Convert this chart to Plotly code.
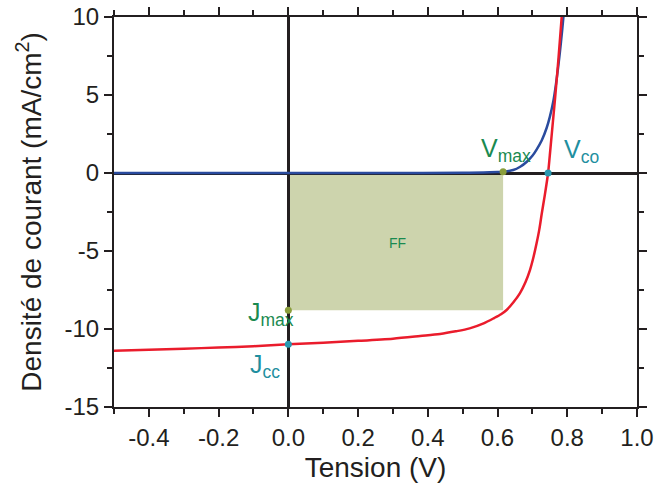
import plotly.graph_objects as go

# Illuminated J-V curve (red)
v_light = [-0.5, -0.4, -0.3, -0.2, -0.1, 0.0, 0.1, 0.2, 0.3, 0.378, 0.435, 0.48, 0.52, 0.56,
           0.59, 0.61, 0.626, 0.645, 0.664, 0.68, 0.693, 0.703, 0.712, 0.72, 0.727, 0.735,
           0.745, 0.750, 0.757, 0.765, 0.775, 0.784, 0.789]
j_light = [-11.39, -11.33, -11.26, -11.19, -11.1, -10.98, -10.88, -10.76, -10.62, -10.45, -10.32,
           -10.15, -9.96, -9.64, -9.3, -9.05, -8.78, -8.3, -7.71, -7.0, -6.22, -5.4, -4.51, -3.6,
           -2.58, -1.5, 0.0, 1.15, 2.85, 4.79, 7.4, 10.0, 11.3]

# Dark J-V curve (blue)
v_dark = [-0.5, 0.0, 0.3, 0.5, 0.56, 0.6, 0.617, 0.645, 0.665, 0.684, 0.7, 0.712, 0.727,
          0.741, 0.750, 0.760, 0.767, 0.774, 0.782, 0.789, 0.793]
j_dark = [0.0, 0.0, 0.0, 0.01, 0.03, 0.06, 0.08, 0.19, 0.4, 0.72, 1.1, 1.5, 2.1,
          2.9, 3.6, 4.6, 5.6, 6.8, 8.4, 10.0, 11.0]

# Characteristic points
v_max, j_max_dot_y = 0.616, 0.08
j_max = -8.8
v_oc = 0.745
j_sc = -10.98

x_tickvals = [-0.4, -0.2, 0.0, 0.2, 0.4, 0.6, 0.8, 1.0]
x_ticktext = ["-0.4", "-0.2", "0.0", "0.2", "0.4", "0.6", "0.8", "1.0"]
y_tickvals = [-15, -10, -5, 0, 5, 10]
y_ticktext = ["-15", "-10", "-5", "0", "5", "10"]

INK = "#231f20"
RED = "#ea1c2c"
BLUE = "#2a4b9e"
GREEN_TXT = "#1a8a50"
TEAL_TXT = "#1f8fa0"
OLIVE_DOT = "#8a9e3c"
TEAL_DOT = "#2a98b0"
FILL = "#cdd4ad"
FONT = "Arial, Liberation Sans, sans-serif"

fig = go.Figure()

fig.add_shape(type="rect", x0=0, x1=v_max, y0=0, y1=j_max, xref="x", yref="y",
              fillcolor=FILL, line=dict(width=0), layer="below")

fig.add_trace(go.Scatter(x=v_dark, y=j_dark, mode="lines",
                         line=dict(color=BLUE, width=2.5, shape="spline", smoothing=0.8),
                         showlegend=False))
fig.add_trace(go.Scatter(x=v_light, y=j_light, mode="lines",
                         line=dict(color=RED, width=2.5, shape="spline", smoothing=0.8),
                         showlegend=False))

fig.add_trace(go.Scatter(x=[v_max, 0], y=[j_max_dot_y, j_max], mode="markers",
                         marker=dict(color=OLIVE_DOT, size=7), showlegend=False))
fig.add_trace(go.Scatter(x=[v_oc, 0], y=[0, j_sc], mode="markers",
                         marker=dict(color=TEAL_DOT, size=7), showlegend=False))

ann_font = 25
fig.add_annotation(x=v_max, y=j_max_dot_y, text="V<sub>max</sub>", showarrow=False,
                   xanchor="right", yanchor="bottom", xshift=30, yshift=4,
                   font=dict(family=FONT, size=ann_font, color=GREEN_TXT))
fig.add_annotation(x=v_oc, y=0, text="V<sub>co</sub>", showarrow=False,
                   xanchor="left", yanchor="bottom", xshift=14, yshift=4,
                   font=dict(family=FONT, size=ann_font, color=TEAL_TXT))
fig.add_annotation(x=0, y=j_max, text="J<sub>max</sub>", showarrow=False,
                   xanchor="right", yanchor="middle", xshift=8, yshift=-4,
                   font=dict(family=FONT, size=ann_font, color=GREEN_TXT))
fig.add_annotation(x=0, y=j_sc, text="J<sub>cc</sub>", showarrow=False,
                   xanchor="right", yanchor="top", xshift=-6, yshift=-4,
                   font=dict(family=FONT, size=ann_font, color=TEAL_TXT))
fig.add_annotation(x=v_max / 2, y=j_max / 2, text="FF", showarrow=False,
                   xshift=2, yshift=-1,
                   font=dict(family=FONT, size=14, color=GREEN_TXT))

axis_common = dict(
    showgrid=False,
    showline=True, linewidth=2, linecolor=INK,
    mirror="allticks",
    ticks="outside", ticklen=8, tickwidth=2, tickcolor=INK,
    zeroline=True, zerolinecolor=INK, zerolinewidth=3,
    tickfont=dict(family=FONT, size=24, color=INK),
    tickmode="array",
    automargin=False,
)

fig.update_xaxes(
    range=[-0.5, 1.0], tickvals=x_tickvals, ticktext=x_ticktext,
    minor=dict(tick0=-0.5, dtick=0.1, ticks="outside", ticklen=5, tickwidth=2, tickcolor=INK),
    title=dict(text="Tension (V)", font=dict(family=FONT, size=28, color=INK), standoff=8),
    **axis_common,
)
fig.update_yaxes(
    range=[-15, 10], tickvals=y_tickvals, ticktext=y_ticktext,
    minor=dict(tick0=-15, dtick=2.5, ticks="outside", ticklen=5, tickwidth=2, tickcolor=INK),
    title=dict(text="Densité de courant (mA/cm<sup>2</sup>)",
               font=dict(family=FONT, size=28, color=INK), standoff=15),
    **axis_common,
)

fig.update_layout(
    width=654, height=487,
    margin=dict(l=114, r=17, t=17, b=80),
    paper_bgcolor="white", plot_bgcolor="white",
    font=dict(family=FONT, color=INK),
    showlegend=False,
)

fig.write_html("out.html")
